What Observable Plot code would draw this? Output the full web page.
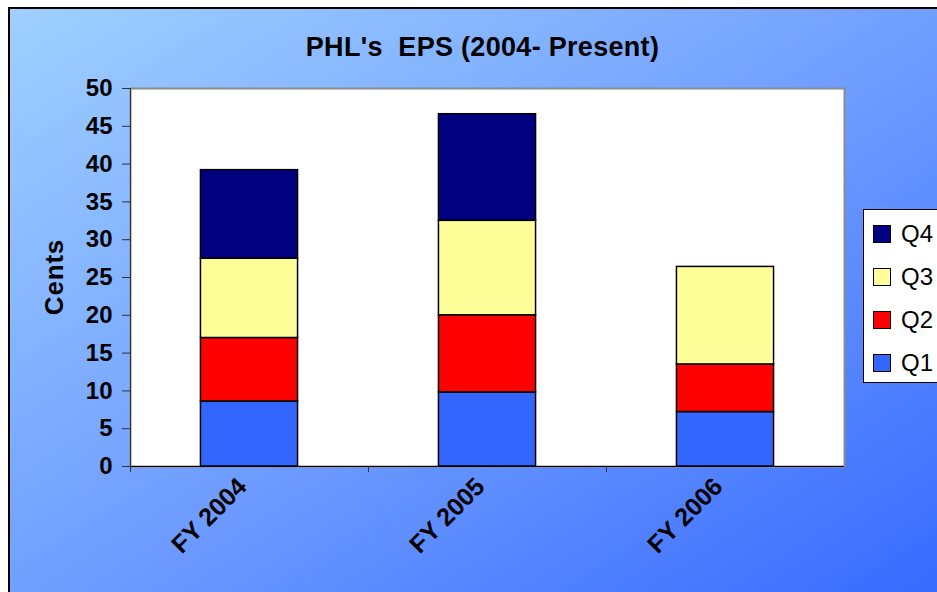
<!DOCTYPE html>
<html>
<head>
<meta charset="utf-8">
<script src="https://cdn.jsdelivr.net/npm/d3@7"></script>
<script src="https://cdn.jsdelivr.net/npm/@observablehq/plot@0.6"></script>
<style>
  body { margin: 0; background: #fff; }
  #wrap { position: relative; width: 937px; height: 592px; overflow: hidden; background: #fff; font-family: "Liberation Sans", Arial, sans-serif; }
  #bg { position: absolute; left: 8px; top: 7px; width: 960px; height: 610px; border-left: 2px solid #000; border-top: 2px solid #000;
        background: linear-gradient(to bottom right, #9fd0ff 0%, #6f9dff 50%, #3366ff 100%); }
  #title { position: absolute; left: 14px; top: 32px; width: 937px; text-align: center; font-weight: bold; font-size: 27px; line-height: 30px; letter-spacing: 0.3px; color: #000; }
  #ylabel { position: absolute; left: 54px; top: 277px; transform: translate(-50%, -50%) rotate(-90deg); font-weight: bold; font-size: 26px; letter-spacing: 0.8px; white-space: nowrap; }
  #chart { position: absolute; left: 0; top: 0; }
  #legend { position: absolute; left: 863px; top: 209px; width: 100px; height: 170px; background: #fff; border: 1px solid #000; padding-top: 2px; }
  .item { height: 43px; display: flex; align-items: center; }
  .sw { width: 16px; height: 16px; border: 1px solid #000; margin-left: 9px; margin-right: 10px; }
  .lab { font-size: 24px; }
</style>
</head>
<body>
<div id="wrap">
  <div id="bg"></div>
  <div id="title">PHL's&nbsp; EPS (2004- Present)</div>
  <div id="ylabel">Cents</div>
  <div id="chart"></div>
  <div id="legend"></div>
</div>
<script>
const years = ["FY 2004", "FY 2005", "FY 2006"];
const quarters = ["Q1", "Q2", "Q3", "Q4"];
const q1 = [8.6, 9.8, 7.2];
const q2 = [8.4, 10.2, 6.3];
const q3 = [10.5, 12.5, 12.9];
const q4 = [11.7, 14.1, null];
const colors = ["#3366ff", "#ff0000", "#ffff99", "#000080"];
const yTicks = [0, 5, 10, 15, 20, 25, 30, 35, 40, 45, 50];

const series = [q1, q2, q3, q4];
const data = [];
quarters.forEach((q, i) => {
  years.forEach((y, j) => {
    const v = series[i][j];
    if (v != null) data.push({year: y, quarter: q, value: v});
  });
});

const W = 937, H = 592, mL = 130, mR = 93, mT = 88, mB = 126;
const step = (W - mL - mR) / years.length;
const inset = step * 0.296;

const chart = Plot.plot({
  width: W, height: H,
  marginLeft: mL, marginRight: mR, marginTop: mT, marginBottom: mB,
  style: {background: "transparent", fontFamily: "'Liberation Sans', Arial, sans-serif", color: "black", overflow: "visible"},
  x: {domain: years, padding: 0, axis: null},
  y: {domain: [0, 50], axis: null},
  color: {domain: quarters, range: colors},
  marks: [
    Plot.frame({fill: "white", stroke: "#8c8c8c", strokeWidth: 2}),
    Plot.barY(data, {x: "year", y: "value", fill: "quarter", stroke: "black", strokeWidth: 1.5, insetLeft: inset, insetRight: inset}),
    Plot.ruleY([0], {stroke: "black", strokeWidth: 1}),
    Plot.frame({anchor: "left", stroke: "#333", strokeWidth: 1}),
    Plot.axisY({ticks: yTicks, tickSize: 8, tickPadding: 10, fontSize: 24, fontWeight: "bold", label: null, tickFormat: d => d, stroke: "#333"}),
    Plot.axisX({tickSize: 0, tickRotate: -45, tickPadding: 16, dx: -7, fontSize: 25, fontWeight: "bold", label: null}),
    Plot.axisX({tickSize: 6, tickFormat: () => "", dx: -step / 2, label: null, stroke: "#333"})
  ]
});
document.getElementById("chart").appendChild(chart);

const legend = document.getElementById("legend");
[...quarters].reverse().forEach(q => {
  const i = quarters.indexOf(q);
  const row = document.createElement("div");
  row.className = "item";
  row.innerHTML = `<div class="sw" style="background:${colors[i]}"></div><span class="lab">${q}</span>`;
  legend.appendChild(row);
});
</script>
</body>
</html>
